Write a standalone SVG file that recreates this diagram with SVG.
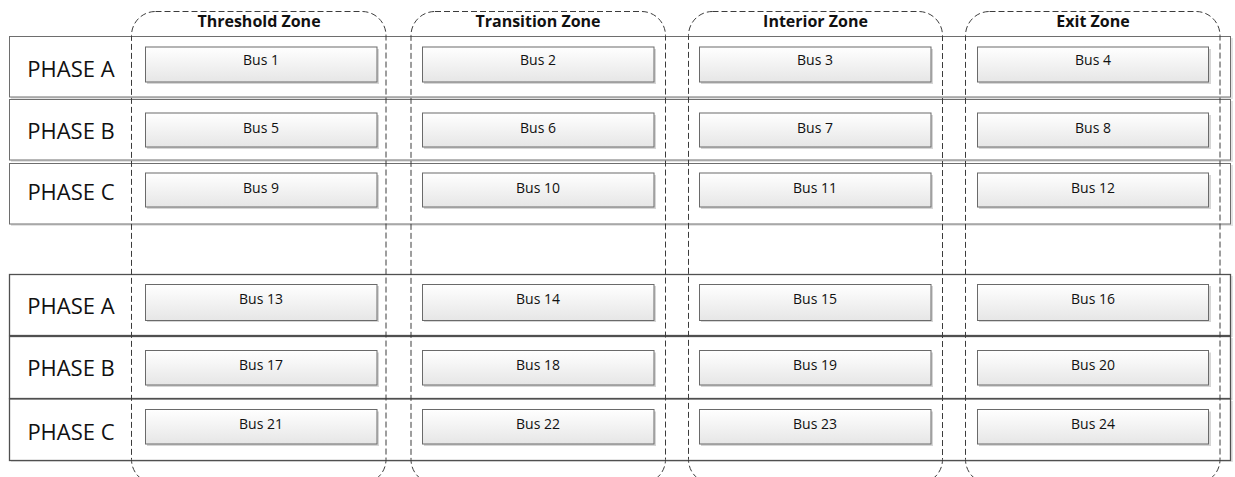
<svg xmlns="http://www.w3.org/2000/svg" width="1235" height="477" viewBox="0 0 1235 477">
  <defs>
    <linearGradient id="busFill" x1="0" y1="0" x2="0" y2="1">
      <stop offset="0" stop-color="#ffffff"/>
      <stop offset="1" stop-color="#e6e6e6"/>
    </linearGradient>
    <style>
      .row-shadow { fill: #e3e3e3; }
      .row { fill: #ffffff; stroke: #6e6e6e; stroke-width: 1; }
      .row-low { fill: #ffffff; stroke: #505050; stroke-width: 1.3; }
      .zone { fill: none; stroke: #3c3c3c; stroke-width: 1; stroke-dasharray: 6 3; }
      .bus-shadow { fill: #d6d6d6; }
      .bus { fill: url(#busFill); stroke: #6a6a6a; stroke-width: 1; }
      .bus-label { font-family: "Open Sans", "Noto Sans", sans-serif; font-size: 14px; fill: #111; text-anchor: middle; }
      .phase { font-family: "Open Sans", "Noto Sans", sans-serif; font-size: 22px; fill: #111; text-anchor: middle; }
      .zone-title { font-family: "Open Sans", "Noto Sans", sans-serif; font-size: 16px; font-weight: bold; fill: #111; text-anchor: middle; }
    </style>
  </defs>

  <rect width="1235" height="477" fill="#ffffff"/>

  <!-- phase rows -->
  <g id="rows">
    <g id="row-1">
      <rect class="row-shadow" x="11" y="38" width="1222" height="61"/>
      <rect class="row" x="9.5" y="36.5" width="1221" height="60.5"/>
      <text class="phase" x="71" y="77">PHASE A</text>
    </g>
    <g id="row-2">
      <rect class="row-shadow" x="11" y="101" width="1222" height="61"/>
      <rect class="row" x="9.5" y="99.5" width="1221" height="60.5"/>
      <text class="phase" x="71" y="138.5">PHASE B</text>
    </g>
    <g id="row-3">
      <rect class="row-shadow" x="11" y="165" width="1222" height="61"/>
      <rect class="row" x="9.5" y="163.5" width="1221" height="60.5"/>
      <text class="phase" x="71" y="200">PHASE C</text>
    </g>
    <g id="row-4">
      <rect class="row-shadow" x="11" y="276" width="1222" height="61"/>
      <rect class="row-low" x="9.5" y="274.5" width="1221" height="61"/>
      <text class="phase" x="71" y="314">PHASE A</text>
    </g>
    <g id="row-5">
      <rect class="row-shadow" x="11" y="338" width="1222" height="62"/>
      <rect class="row-low" x="9.5" y="336.5" width="1221" height="62"/>
      <text class="phase" x="71" y="375.5">PHASE B</text>
    </g>
    <g id="row-6">
      <rect class="row-shadow" x="11" y="401" width="1222" height="61"/>
      <rect class="row-low" x="9.5" y="399" width="1221" height="61.5"/>
      <text class="phase" x="71" y="440">PHASE C</text>
    </g>
  </g>

  <!-- zone outlines -->
  <g id="zones">
    <g id="zone-threshold">
      <rect class="zone" x="131.5" y="11.5" width="254.5" height="472" rx="24" ry="24"/>
      <text class="zone-title" x="259" y="26.5">Threshold Zone</text>
    </g>
    <g id="zone-transition">
      <rect class="zone" x="411" y="11.5" width="254.5" height="472" rx="24" ry="24"/>
      <text class="zone-title" x="538" y="26.5">Transition Zone</text>
    </g>
    <g id="zone-interior">
      <rect class="zone" x="688.5" y="11.5" width="254" height="472" rx="24" ry="24"/>
      <text class="zone-title" x="815.5" y="26.5">Interior Zone</text>
    </g>
    <g id="zone-exit">
      <rect class="zone" x="965.5" y="11.5" width="254.5" height="472" rx="24" ry="24"/>
      <text class="zone-title" x="1093" y="26.5">Exit Zone</text>
    </g>
  </g>

  <!-- bus blocks -->
  <g id="buses">
    <!-- row 1 -->
    <g id="bus-1"><rect class="bus-shadow" x="147" y="49" width="232" height="35"/><rect class="bus" x="145.5" y="47" width="231.5" height="35"/><text class="bus-label" x="261" y="65">Bus 1</text></g>
    <g id="bus-2"><rect class="bus-shadow" x="424" y="49" width="232" height="35"/><rect class="bus" x="422.5" y="47" width="231.5" height="35"/><text class="bus-label" x="538" y="65">Bus 2</text></g>
    <g id="bus-3"><rect class="bus-shadow" x="701" y="49" width="232" height="35"/><rect class="bus" x="699.5" y="47" width="231.5" height="35"/><text class="bus-label" x="815" y="65">Bus 3</text></g>
    <g id="bus-4"><rect class="bus-shadow" x="979" y="49" width="232" height="35"/><rect class="bus" x="977.5" y="47" width="231" height="35"/><text class="bus-label" x="1093" y="65">Bus 4</text></g>
    <!-- row 2 -->
    <g id="bus-5"><rect class="bus-shadow" x="147" y="115" width="232" height="34"/><rect class="bus" x="145.5" y="113" width="231.5" height="34"/><text class="bus-label" x="261" y="132.5">Bus 5</text></g>
    <g id="bus-6"><rect class="bus-shadow" x="424" y="115" width="232" height="34"/><rect class="bus" x="422.5" y="113" width="231.5" height="34"/><text class="bus-label" x="538" y="132.5">Bus 6</text></g>
    <g id="bus-7"><rect class="bus-shadow" x="701" y="115" width="232" height="34"/><rect class="bus" x="699.5" y="113" width="231.5" height="34"/><text class="bus-label" x="815" y="132.5">Bus 7</text></g>
    <g id="bus-8"><rect class="bus-shadow" x="979" y="115" width="232" height="34"/><rect class="bus" x="977.5" y="113" width="231" height="34"/><text class="bus-label" x="1093" y="132.5">Bus 8</text></g>
    <!-- row 3 -->
    <g id="bus-9"><rect class="bus-shadow" x="147" y="175" width="232" height="34"/><rect class="bus" x="145.5" y="173" width="231.5" height="34"/><text class="bus-label" x="261" y="193">Bus 9</text></g>
    <g id="bus-10"><rect class="bus-shadow" x="424" y="175" width="232" height="34"/><rect class="bus" x="422.5" y="173" width="231.5" height="34"/><text class="bus-label" x="538" y="193">Bus 10</text></g>
    <g id="bus-11"><rect class="bus-shadow" x="701" y="175" width="232" height="34"/><rect class="bus" x="699.5" y="173" width="231.5" height="34"/><text class="bus-label" x="815" y="193">Bus 11</text></g>
    <g id="bus-12"><rect class="bus-shadow" x="979" y="175" width="232" height="34"/><rect class="bus" x="977.5" y="173" width="231" height="34"/><text class="bus-label" x="1093" y="193">Bus 12</text></g>
    <!-- row 4 -->
    <g id="bus-13"><rect class="bus-shadow" x="147" y="286" width="232" height="36"/><rect class="bus" x="145.5" y="284.5" width="231.5" height="36"/><text class="bus-label" x="261" y="303.5">Bus 13</text></g>
    <g id="bus-14"><rect class="bus-shadow" x="424" y="286" width="232" height="36"/><rect class="bus" x="422.5" y="284.5" width="231.5" height="36"/><text class="bus-label" x="538" y="303.5">Bus 14</text></g>
    <g id="bus-15"><rect class="bus-shadow" x="701" y="286" width="232" height="36"/><rect class="bus" x="699.5" y="284.5" width="231.5" height="36"/><text class="bus-label" x="815" y="303.5">Bus 15</text></g>
    <g id="bus-16"><rect class="bus-shadow" x="979" y="286" width="232" height="36"/><rect class="bus" x="977.5" y="284.5" width="231" height="36"/><text class="bus-label" x="1093" y="303.5">Bus 16</text></g>
    <!-- row 5 -->
    <g id="bus-17"><rect class="bus-shadow" x="147" y="352.5" width="232" height="34.5"/><rect class="bus" x="145.5" y="350.5" width="231.5" height="34.5"/><text class="bus-label" x="261" y="370">Bus 17</text></g>
    <g id="bus-18"><rect class="bus-shadow" x="424" y="352.5" width="232" height="34.5"/><rect class="bus" x="422.5" y="350.5" width="231.5" height="34.5"/><text class="bus-label" x="538" y="370">Bus 18</text></g>
    <g id="bus-19"><rect class="bus-shadow" x="701" y="352.5" width="232" height="34.5"/><rect class="bus" x="699.5" y="350.5" width="231.5" height="34.5"/><text class="bus-label" x="815" y="370">Bus 19</text></g>
    <g id="bus-20"><rect class="bus-shadow" x="979" y="352.5" width="232" height="34.5"/><rect class="bus" x="977.5" y="350.5" width="231" height="34.5"/><text class="bus-label" x="1093" y="370">Bus 20</text></g>
    <!-- row 6 -->
    <g id="bus-21"><rect class="bus-shadow" x="147" y="411.5" width="232" height="34.5"/><rect class="bus" x="145.5" y="409.5" width="231.5" height="34.5"/><text class="bus-label" x="261" y="429">Bus 21</text></g>
    <g id="bus-22"><rect class="bus-shadow" x="424" y="411.5" width="232" height="34.5"/><rect class="bus" x="422.5" y="409.5" width="231.5" height="34.5"/><text class="bus-label" x="538" y="429">Bus 22</text></g>
    <g id="bus-23"><rect class="bus-shadow" x="701" y="411.5" width="232" height="34.5"/><rect class="bus" x="699.5" y="409.5" width="231.5" height="34.5"/><text class="bus-label" x="815" y="429">Bus 23</text></g>
    <g id="bus-24"><rect class="bus-shadow" x="979" y="411.5" width="232" height="34.5"/><rect class="bus" x="977.5" y="409.5" width="231" height="34.5"/><text class="bus-label" x="1093" y="429">Bus 24</text></g>
  </g>

  <!-- no connectors in this layout -->
  <g id="connectors"/>
</svg>
